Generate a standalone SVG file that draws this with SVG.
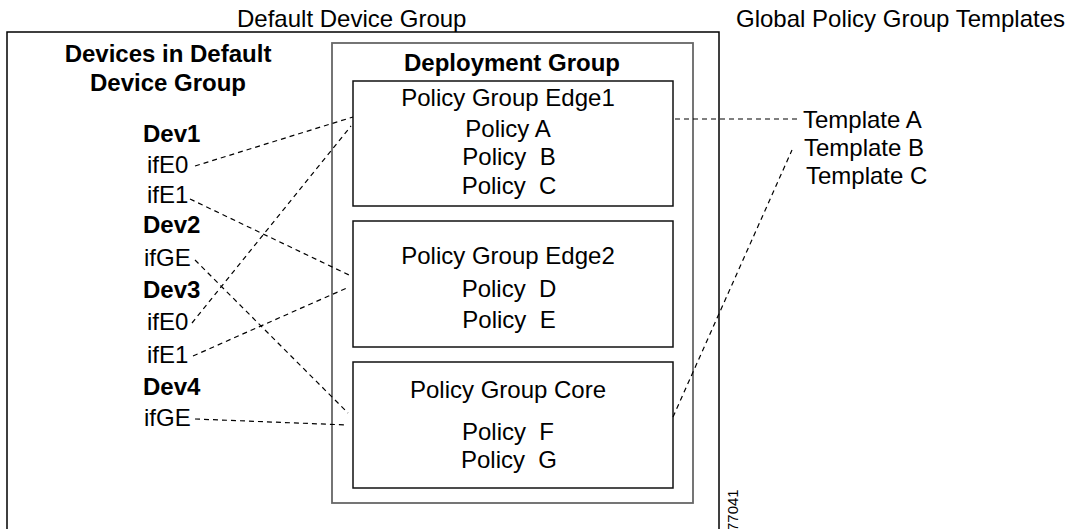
<svg xmlns="http://www.w3.org/2000/svg" width="1072" height="529" viewBox="0 0 1072 529">
  <style>
    text { font-family: "Liberation Sans", Arial, sans-serif; font-size: 24px; fill: #000; white-space: pre; }
    .b { font-weight: bold; }
    .c { text-anchor: middle; }
    .outer { fill: none; stroke: #000; stroke-width: 1.5; }
    .deploy { fill: none; stroke: #666; stroke-width: 1.8; }
    .pg { fill: #fff; stroke: #111; stroke-width: 1.5; }
    .link { fill: none; stroke: #000; stroke-width: 1.2; stroke-dasharray: 5 4; }
    .tag { font-size: 15px; }
  </style>
  <rect width="1072" height="529" fill="#fff"/>

  <!-- group titles -->
  <text x="237" y="27">Default Device Group</text>
  <text x="736" y="27">Global Policy Group Templates</text>

  <!-- default device group frame (runs past the lower edge) -->
  <g id="default-device-group">
    <rect class="outer" x="7" y="32" width="712" height="520"/>
  </g>

  <!-- devices column -->
  <g id="devices">
    <text class="b c" x="168" y="62">Devices in Default</text>
    <text class="b c" x="168" y="91">Device Group</text>
  </g>
  <g id="dev1">
    <text class="b" x="143" y="142">Dev1</text>
    <text id="dev1-ife0" x="147" y="173">ifE0</text>
    <text id="dev1-ife1" x="147" y="203">ifE1</text>
  </g>
  <g id="dev2">
    <text class="b" x="143" y="233">Dev2</text>
    <text id="dev2-ifge" x="144" y="266">ifGE</text>
  </g>
  <g id="dev3">
    <text class="b" x="143" y="298">Dev3</text>
    <text id="dev3-ife0" x="147" y="330">ifE0</text>
    <text id="dev3-ife1" x="147" y="363">ifE1</text>
  </g>
  <g id="dev4">
    <text class="b" x="143" y="395">Dev4</text>
    <text id="dev4-ifge" x="144" y="426">ifGE</text>
  </g>

  <!-- deployment group -->
  <g id="deployment-group">
    <rect class="deploy" x="332" y="43" width="361" height="460"/>
    <text class="b c" x="512" y="71">Deployment Group</text>
  </g>
  <g id="pg-edge1">
    <rect class="pg" x="353" y="81" width="320" height="125"/>
    <text class="c" x="508" y="106">Policy Group Edge1</text>
    <text class="c" x="508" y="137">Policy A</text>
    <text class="c" x="509" y="165">Policy  B</text>
    <text class="c" x="509" y="194">Policy  C</text>
  </g>
  <g id="pg-edge2">
    <rect class="pg" x="353" y="221" width="320" height="126"/>
    <text class="c" x="508" y="264">Policy Group Edge2</text>
    <text class="c" x="509" y="297">Policy  D</text>
    <text class="c" x="509" y="328">Policy  E</text>
  </g>
  <g id="pg-core">
    <rect class="pg" x="353" y="362" width="320" height="126"/>
    <text class="c" x="508" y="398">Policy Group Core</text>
    <text class="c" x="508" y="440">Policy  F</text>
    <text class="c" x="509" y="468">Policy  G</text>
  </g>

  <!-- templates -->
  <g id="templates">
    <text x="803" y="128">Template A</text>
    <text x="804" y="156">Template B</text>
    <text x="806" y="184">Template C</text>
  </g>

  <!-- dashed bindings -->
  <g id="connectors">
    <line class="link" x1="195" y1="166" x2="353" y2="117"/>
    <line class="link" x1="192" y1="323" x2="351" y2="126"/>
    <line class="link" x1="190" y1="199" x2="349" y2="275"/>
    <line class="link" x1="193" y1="356" x2="349" y2="287"/>
    <line class="link" x1="195" y1="260" x2="348" y2="413"/>
    <line class="link" x1="195" y1="419" x2="347" y2="425"/>
    <line class="link" x1="675" y1="119" x2="797" y2="119"/>
    <line class="link" x1="673" y1="417" x2="792" y2="150"/>
  </g>

  <!-- figure number -->
  <text class="tag" transform="translate(738,531) rotate(-90)">77041</text>
</svg>
